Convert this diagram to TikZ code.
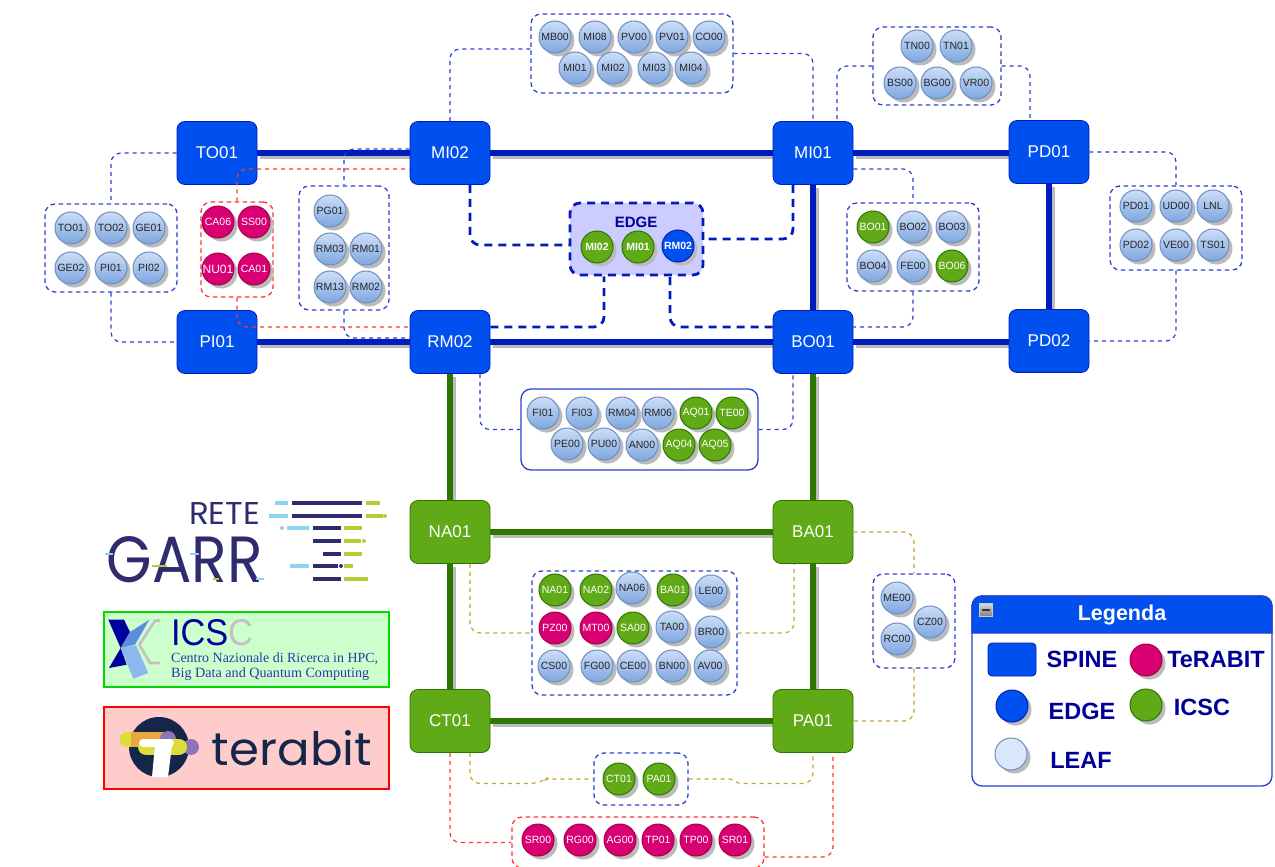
\documentclass[tikz,border=0pt]{standalone}
\usepackage{fontspec}
\setmainfont{Liberation Sans}
\newfontfamily\serifont{Liberation Serif}
\newfontfamily\terafont{Poppins}
\usetikzlibrary{shadows}
\pgfdeclarelayer{bg}
\pgfsetlayers{bg,main}
\definecolor{spineblue}{HTML}{0050EF}
\definecolor{spineline}{HTML}{001DBC}
\definecolor{icscgreen}{HTML}{60A917}
\definecolor{icscline}{HTML}{2D7600}
\definecolor{terapink}{HTML}{D80073}
\definecolor{teraline}{HTML}{A50040}
\definecolor{leaftop}{HTML}{DAE8FC}
\definecolor{leafbot}{HTML}{7EA6E0}
\definecolor{leafline}{HTML}{6C8EBF}
\definecolor{shade}{HTML}{BBBBBB}
\definecolor{grpblue}{HTML}{2A3FD0}
\definecolor{conred}{HTML}{FF3333}
\definecolor{congold}{HTML}{C9A62C}
\definecolor{legtext}{HTML}{000099}
\definecolor{garrnavy}{HTML}{2E2C6E}
\definecolor{garrsky}{HTML}{8DD3F2}
\definecolor{garrlime}{HTML}{B7CB35}
\definecolor{tnavy}{HTML}{14274A}
\definecolor{tyellow}{HTML}{DCDC3C}
\definecolor{torange}{HTML}{E9A93F}
\definecolor{tpurple}{HTML}{8F75B8}
\definecolor{xdark}{HTML}{00009C}
\definecolor{xmid}{HTML}{5C8EDD}
\definecolor{xlight}{HTML}{8CB8EE}
\definecolor{xgray}{HTML}{C4BFC4}
\definecolor{icsctext}{HTML}{2A3BA8}
\newcommand{\thicklink}[3]{%
  \draw[draw=shade,line width=5.5pt,transform canvas={xshift=3pt,yshift=-3pt}] #2 -- #3;
  \draw[#1] #2 -- #3;}
\tikzset{
  x=1pt,y=-1pt,
  spine/.style={draw=spineline,fill=spineblue,rounded corners=8pt,minimum width=80pt,minimum height=63pt,inner sep=0pt,text=white,font=\fontsize{17}{18}\selectfont,line width=.8pt},
  spinegreen/.style={spine,draw=icscline,fill=icscgreen},
  ball/.style={circle,minimum size=32pt,inner sep=0pt,line width=1pt,font=\fontsize{10.5}{12}\selectfont,drop shadow={shadow xshift=3.5pt,shadow yshift=-3.5pt,fill=shade,opacity=1}},
  leaf/.style={ball,draw=leafline,top color=leaftop!85!leafbot,bottom color=leafbot,text=black!85},
  gball/.style={ball,draw=icscline,fill=icscgreen,text=white},
  pball/.style={ball,draw=teraline,fill=terapink,text=white},
  bball/.style={ball,draw=spineline,fill=spineblue,text=white},
  grp/.style={draw=grpblue,dash pattern=on 4.5pt off 3.5pt,line width=1.3pt,rounded corners=10pt,inner sep=0pt},
  grpred/.style={grp,draw=conred},
  grpsolid/.style={draw=grpblue,line width=1.3pt,rounded corners=10pt,inner sep=0pt},
  grpedge/.style={draw=spineline,fill=blue!20,dash pattern=on 8pt off 6pt,line width=2.8pt,rounded corners=10pt,inner sep=0pt},
  bline/.style={draw=grpblue,dash pattern=on 4pt off 4pt,line width=1.2pt,rounded corners=10pt},
  rline/.style={bline,draw=conred},
  gline/.style={bline,draw=congold},
  eline/.style={draw=spineline,dash pattern=on 8pt off 6pt,line width=2.8pt,rounded corners=10pt},
  blink/.style={draw=spineline,line width=5.5pt},
  glink/.style={draw=icscline,line width=5.5pt},
  legtxt/.style={text=legtext,font=\bfseries\fontsize{23.5}{25}\selectfont,inner sep=0pt},
  garrbar/.style={line width=3.4pt},
}
\begin{document}
\begin{tikzpicture}
\path[use as bounding box] (0,0) rectangle (1275,867);

% spine nodes
\foreach \n/\x/\y in {TO01/217/153,MI02/450/153,MI01/813/153,PD01/1049/152,PI01/217/342,RM02/450/342,BO01/813/342,PD02/1049/341}
  \node[spine] (\n) at (\x,\y) {\n};
\foreach \n/\x/\y in {NA01/450/532,BA01/813/532,CT01/450/721,PA01/813/721}
  \node[spinegreen] (\n) at (\x,\y) {\n};

% thick links
\begin{pgfonlayer}{bg}
\thicklink{blink}{(TO01.east)}{(MI02.west)}
\thicklink{blink}{(MI02.east)}{(MI01.west)}
\thicklink{blink}{(MI01.east)}{(PD01.west |- MI01.east)}
\thicklink{blink}{(PI01.east)}{(RM02.west)}
\thicklink{blink}{(RM02.east)}{(BO01.west)}
\thicklink{blink}{(BO01.east)}{(PD02.west |- BO01.east)}
\thicklink{blink}{(MI01.south)}{(BO01.north)}
\thicklink{blink}{(PD01.south)}{(PD02.north)}
\thicklink{glink}{(RM02.south)}{(NA01.north)}
\thicklink{glink}{(BO01.south)}{(BA01.north)}
\thicklink{glink}{(NA01.east)}{(BA01.west)}
\thicklink{glink}{(CT01.east)}{(PA01.west)}
\thicklink{glink}{(NA01.south)}{(CT01.north)}
\thicklink{glink}{(BA01.south)}{(PA01.north)}
\end{pgfonlayer}

% groups
\node[grp,minimum width=132pt,minimum height=88pt] (gTO) at (111,248) {};
\node[grpred,minimum width=72pt,minimum height=95pt] (gCA) at (237,249.5) {};
\node[grp,minimum width=90pt,minimum height=124pt] (gRM) at (344,248) {};
\node[grp,minimum width=202pt,minimum height=79pt] (gMI) at (632,53.5) {};
\node[grp,minimum width=128pt,minimum height=78pt] (gTN) at (937,66) {};
\node[grp,minimum width=132pt,minimum height=88pt] (gBO) at (913,247) {};
\node[grp,minimum width=132pt,minimum height=84pt] (gPD) at (1176,228) {};
\node[grpsolid,minimum width=237pt,minimum height=81pt] (gFI) at (639.5,429.5) {};
\node[grpedge,minimum width=133pt,minimum height=72pt] (gEDGE) at (636.5,239) {};
\node[grp,minimum width=205pt,minimum height=124pt] (gNA) at (634.5,633) {};
\node[grp,minimum width=82pt,minimum height=94pt] (gME) at (914,621) {};
\node[grp,minimum width=94pt,minimum height=52pt] (gCT) at (641,779) {};
\node[grpred,minimum width=252pt,minimum height=51pt] (gSR) at (638,842.5) {};

% connectors
\draw[bline] (TO01.west) -| (gTO.north);
\draw[bline] (gTO.south) |- (PI01.west);
\draw[bline] ([yshift=4pt]MI02.west) -| (gRM.north);
\draw[bline] (gRM.south) |- ([yshift=4pt]RM02.west);
\draw[bline] (MI02.north) |- ([yshift=4.5pt]gMI.west);
\draw[bline] (gMI.east) -| (MI01.north);
\draw[bline] (gTN.west) -| ([xshift=24pt,yshift=-13.5pt]MI01.north);
\draw[bline] (gTN.east) -| ([xshift=-19pt]PD01.north);
\draw[bline] ([yshift=-16pt]MI01.east) -| (gBO.north);
\draw[bline] (gBO.south) |- ([yshift=15pt]BO01.east);
\draw[bline] (PD01.east) -| (gPD.north);
\draw[bline] (gPD.south) |- (PD02.east);
\draw[bline] ([xshift=30pt]RM02.south) |- (gFI.west);
\draw[bline] (gFI.east) -| ([xshift=-20pt]BO01.south);
\draw[gline] (BA01.east) -| (gME.north);
\draw[gline] (gME.south) |- (PA01.east);
\draw[gline] ([xshift=20pt]NA01.south) |- (gNA.west);
\draw[gline] (gNA.east) -| ([xshift=-19pt]BA01.south);
\coordinate (j1) at (540,783.5);
\coordinate (j2) at (546,779);
\coordinate (j3) at (732,779);
\coordinate (j4) at (738,783.5);
\draw[gline] ([xshift=20pt]CT01.south) |- (j1) [rounded corners=3pt] -- (j2) -- (gCT.west);
\draw[gline] (gCT.east) [rounded corners=3pt] -- (j3) -- (j4) [rounded corners=10pt] -| (PA01.south);
\draw[rline] (gCA.north) |- ([yshift=-16pt]MI02.west);
\draw[rline] (gCA.south) |- ([yshift=15pt]RM02.west);
\draw[rline] (CT01.south) |- (gSR.west);
\draw[rline] ([yshift=-14.5pt]gSR.east) -| ([xshift=20pt]PA01.south);
\draw[eline] ([xshift=20pt]MI02.south) |- ([yshift=-6pt]gEDGE.west);
\draw[eline] ([xshift=-20pt]MI01.south) |- (gEDGE.east);
\draw[eline] ([yshift=15pt]RM02.east) -| ([xshift=-32.5pt]gEDGE.south);
\draw[eline] ([yshift=15pt]BO01.west) -| ([xshift=33.5pt]gEDGE.south);

% leaf nodes
\foreach \n/\x/\y/\t in {
  a1/71/228/TO01,a2/111/228/TO02,a3/149/228/GE01,a4/71/268/GE02,a5/111/268/PI01,a6/149/268/PI02,
  b1/330/211/PG01,b2/330/249/RM03,b3/366/249/RM01,b4/330/287/RM13,b5/366/287/RM02,
  c1/555/37/MB00,c2/595/37/MI08,c3/634/37/PV00,c4/672/37/PV01,c5/709/37/CO00,c6/575/68/MI01,c7/613/68/MI02,c8/654/68/MI03,c9/691/68/MI04,
  d1/917/46/TN00,d2/956/46/TN01,d3/900/83/BS00,d4/937/83/BG00,d5/976/83/VR00,
  e2/913/227/BO02,e3/952/227/BO03,e4/873/266/BO04,e5/913/266/FE00,
  f1/1136/206/PD01,f2/1176/206/UD00,f3/1213/206/LNL,f4/1136/245/PD02,f5/1176/245/VE00,f6/1213/245/TS01,
  h1/543/413/FI01,h2/582/413/FI03,h3/622/413/RM04,h4/658/413/RM06,h5/567/444/PE00,h6/604/444/PU00,h7/642/445/AN00,
  k3/632/588/NA06,k5/711/591/LE00,k6/672/627/TA00,k7/711/632/BR00,k8/554/666/CS00,k9/597/666/FG00,k10/633/666/CE00,k11/672/666/BN00,k12/710/666/AV00,
  m1/897/598/ME00,m2/930/622/CZ00,m3/897/639/RC00}
  \node[leaf] (\n) at (\x,\y) {\t};
\foreach \n/\x/\y/\t in {e1/873/227/BO01,e6/952/266/BO06,h8/696/413/AQ01,h9/732/413/TE00,h10/679/445/AQ04,h11/715/445/AQ05,k1/555/590/NA01,k2/596/590/NA02,k4/673/590/BA01,k15/633/628/SA00,n1/619/779/CT01,n2/659/779/PA01}
  \node[gball] (\n) at (\x,\y) {\t};
\foreach \n/\x/\y/\t in {p1/218/222/CA06,p2/254/222/SS00,p4/254/269/CA01,k13/555/628/PZ00,k14/596/628/MT00,q1/538/840/SR00,q2/580/840/RG00,q3/620/840/AG00,q4/658/840/TP01,q5/696/840/TP00,q6/735/840/SR01}
  \node[pball] (\n) at (\x,\y) {\t};
\node[pball,font=\fontsize{12}{13}\selectfont] (p3) at (218,269) {NU01};
\node[text=legtext,font=\bfseries\fontsize{15}{16}\selectfont,inner sep=0pt] (edgelabel) at (636,222) {EDGE};
\node[gball,font=\bfseries\fontsize{10.5}{12}\selectfont] (r1) at (597,247) {MI02};
\node[gball,font=\bfseries\fontsize{10.5}{12}\selectfont] (r2) at (638,247) {MI01};
\node[bball,font=\bfseries\fontsize{10.5}{12}\selectfont] (r3) at (678,246) {RM02};

% GARR logo
\node[inner sep=0pt,text=garrnavy] (reteword) at (224.5,513) {\resizebox{71pt}{22pt}{\terafont RETE}};
\node[inner sep=0pt,text=garrnavy] (garrword) at (185,560) {\resizebox{156pt}{46pt}{\terafont GARR}};
\foreach \a/\b/\y in {275/288/503,269/288/516,287/309/528,290/309/566}
  \draw[garrbar,garrsky] (\a,\y) -- (\b,\y);
\foreach \a/\b/\y in {292/362/503,292/362/516,313/341/528,313/341/541,323/341/554,313/338/566,313/341/579}
  \draw[garrbar,garrnavy] (\a,\y) -- (\b,\y);
\foreach \a/\b/\y in {366/380/503,366/383/516,344/362/528,344/361/541,344/362/554,344/353/566,344/368/579}
  \draw[garrbar,garrlime] (\a,\y) -- (\b,\y);
\fill[garrlime] (385,516) circle (2pt) (364,541) circle (2pt);
\fill[garrsky] (282,528) circle (2pt);
\fill[garrnavy] (341,566) circle (2pt);
\draw[line width=2pt,garrsky] (105,554) -- (113,554) (190,554) -- (199,554) (256,579) -- (264,579);
\draw[line width=2pt,garrlime] (152,566) -- (167,566) (213,579) -- (219,579);

% ICSC logo
\path[fill=green!20,draw=green!85!black,line width=2pt] (103.5,611.5) rectangle (389,687);
\fill[xdark] (108.3,619.7) -- (124,619.7) -- (130,632) -- (120.7,648) -- cycle;
\fill[xdark] (120.7,648) -- (126.7,664.7) -- (109,668) -- cycle;
\fill[xmid] (130,632) -- (149.3,619.7) -- (135,644.7) -- (120.7,648) -- cycle;
\fill[xlight] (120.7,648) -- (136,645.3) -- (148.3,673) -- (133.3,678.7) -- cycle;
\draw[line width=2.6pt,xgray] (160,620.7) -- (155,620.7) -- (139.3,644.7) -- (150,663) -- (160,663);
\node[inner sep=0pt] (icscword) at (212,633) {\resizebox{82pt}{26pt}{\color{xdark}ICS\color{xgray}C}};
\node[inner sep=0pt,anchor=west,text=icsctext] (icsc1) at (171,659) {\resizebox{207pt}{!}{\serifont Centro Nazionale di Ricerca in HPC,}};
\node[inner sep=0pt,anchor=west,text=icsctext] (icsc2) at (171,674) {\resizebox{198pt}{!}{\serifont Big Data and Quantum Computing}};

% terabit logo
\path[fill=red!20,draw=red,line width=2pt] (103.5,706.5) rectangle (389,789);
\fill[tnavy] (159,747) circle (30pt);
\fill[tpurple] (191,747) circle (8pt);
\draw[line width=15pt,line cap=round,tyellow] (127,739) -- (165,739);
\fill[torange] (131,731.5) -- (168,731.5) -- (168,746.5) -- (131,746.5) -- cycle;
\fill[tpurple] (168,739) circle (8pt);
\draw[line width=16pt,line cap=round,tyellow] (146,747) -- (179,747);
\draw[line width=8pt,line cap=round,white] (143,743) -- (170,743);
\fill[white] (155,745) -- (172,745) -- (168,777) -- (152,777) -- cycle;
\node[inner sep=0pt,text=tnavy] (teraword) at (292,748) {\resizebox{160pt}{35pt}{\terafont terabit}};

% legend
\node[draw=grpblue,fill=white,line width=1.3pt,rounded corners=10pt,minimum width=300pt,minimum height=190pt,inner sep=0pt] (legendbox) at (1122,691) {};
\path[fill=spineblue,draw=grpblue,line width=1.3pt,rounded corners=10pt] (972,633) -- (972,596) -- (1272,596) [sharp corners] -- (1272,633) -- cycle;
\node[draw=black!20,top color=black!15,bottom color=black!50,minimum size=13pt,inner sep=0pt] (legendmin) at (986,610) {};
\draw[line width=1.6pt,black!80] ([xshift=-4pt]legendmin.center) -- ([xshift=4pt]legendmin.center);
\node[text=white,font=\bfseries\fontsize{21.5}{23}\selectfont,inner sep=0pt] (legendtitle) at (1122,615) {Legenda};
\node[spine,minimum width=48pt,minimum height=33pt,rounded corners=4pt] (keyspine) at (1012,659.5) {};
\node[legtxt] (tspine) at (1082,659.5) {SPINE};
\node[pball] (keytera) at (1146,660) {};
\node[legtxt] (ttera) at (1216,660) {TeRABIT};
\node[bball] (keyedge) at (1012,706) {};
\node[legtxt] (tedge) at (1082,711) {EDGE};
\node[gball] (keyicsc) at (1146,705) {};
\node[legtxt] (ticsc) at (1202,707) {ICSC};
\node[ball,draw=leafline,fill=leaftop] (keyleaf) at (1011,754) {};
\node[legtxt] (tleaf) at (1081,760) {LEAF};
\end{tikzpicture}
\end{document}
